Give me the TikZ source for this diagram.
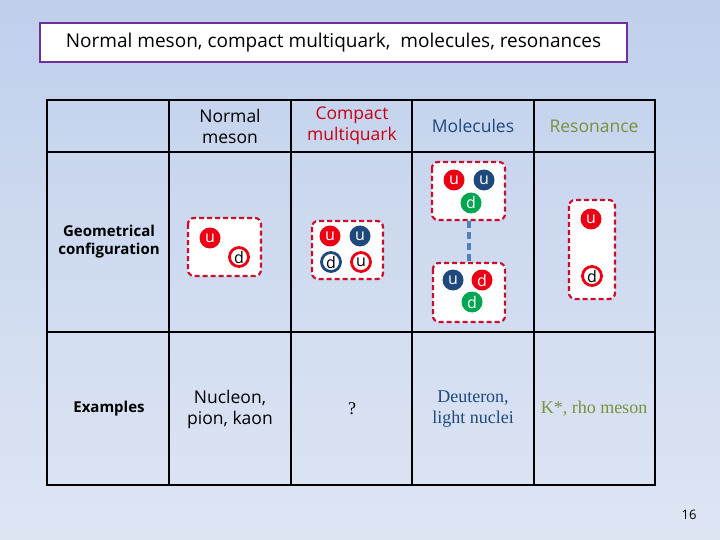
\documentclass[tikz,border=0pt]{standalone}
\usepackage{fontspec}
\setmainfont{Open Sans}
\newfontfamily\serifa{Liberation Serif}
\begin{document}
\begin{tikzpicture}[x=1pt,y=-1pt,
 grid/.style={line width=1.6pt},
 qbox/.style={draw={rgb,255:red,200;green,16;blue,46},fill=white,line width=2.2pt,dash pattern=on 5pt off 3pt,rounded corners=6pt},
 qf/.style={circle,fill=#1,text=white,minimum size=21pt,inner sep=0pt,font=\fontsize{16}{16}\selectfont},
 qr/.style={circle,draw=#1,line width=2.8pt,fill=white,text=black,minimum size=19pt,inner sep=0pt,font=\fontsize{16}{16}\selectfont},
 hd/.style={align=center,font=\fontsize{17.5}{21}\selectfont},
 lab/.style={align=center,font=\bfseries\fontsize{15}{18}\selectfont}]
\definecolor{qred}{RGB}{236,0,20}
\definecolor{qblue}{RGB}{31,73,125}
\definecolor{qgreen}{RGB}{0,166,80}
\definecolor{bgtop}{RGB}{192,208,236}
\definecolor{bgbot}{RGB}{222,230,244}
\definecolor{rgreen}{RGB}{118,146,60}
\definecolor{ttl}{RGB}{112,48,160}
\shade[top color=bgtop,bottom color=bgbot] (0,0) rectangle (720,540);
\useasboundingbox (0,0) rectangle (720,540);
% title
\node[draw=ttl,line width=1.8pt,fill=white,minimum width=587pt,minimum height=39pt,font=\fontsize{19}{21}\selectfont] (title) at (333.5,42.5) {Normal meson, compact multiquark,\ \ molecules, resonances};
% table
\draw[grid] (47,100) rectangle (655,485);
\foreach \x in {169,291,412,534} \draw[grid] (\x,100) -- (\x,485);
\draw[grid] (47,152) -- (655,152);
\draw[grid] (47,332) -- (655,332);
\node[hd] (h1) at (230,126) {Normal\\meson};
\node[hd,text=qred!85!black] (h2) at (352,126) {Compact\\multiquark};
\node[hd,text=qblue] (h3) at (473,126) {Molecules};
\node[hd,text=rgreen] (h4) at (594,126) {Resonance};
\node[lab] (r1) at (109,242) {Geometrical\\configuration};
\node[lab] (r2) at (109,409) {Examples};
\node[hd] (e1) at (230,409) {Nucleon,\\pion,\ kaon};
\node[font=\serifa\fontsize{18}{20}\selectfont] (e2) at (352,409) {?};
\node[align=center,text=qblue,font=\serifa\fontsize{18}{21}\selectfont] (e3) at (473,409) {Deuteron,\\light nuclei};
\node[text=rgreen,font=\serifa\fontsize{18}{20}\selectfont] (e4) at (594,409) {K*, rho meson};
% meson
\draw[qbox] (188,218) rectangle (261,276);
\node[qf=qred] (m1) at (210,238) {u};
\node[qr=qred] (m2) at (239,257) {d};
% compact
\draw[qbox] (312,221) rectangle (383,279);
\node[qf=qred] (c1) at (330,236) {u};
\node[qf=qblue] (c2) at (360,236) {u};
\node[qr=qblue] (c3) at (331,262) {d};
\node[qr=qred] (c4) at (361,262) {u};
% molecules
\draw[qbox] (432,162) rectangle (505,220);
\draw[qbox] (433,263) rectangle (505,322);
\coordinate (lt) at (469,221);
\coordinate (lb) at (469,262);
\draw[line width=3.5pt,dash pattern=on 7pt off 4pt,color={rgb,255:red,79;green,129;blue,189}] (lt) -- (lb);
\node[qf=qred] (a1) at (454,180) {u};
\node[qf=qblue] (a2) at (484,180) {u};
\node[qf=qgreen] (a3) at (471,203) {d};
\node[qf=qblue] (b1) at (453,280) {u};
\node[qf=qred] (b2) at (482,280) {d};
\node[qf=qgreen] (b3) at (472,302) {d};
% resonance
\draw[qbox] (569,200) rectangle (615,299);
\node[qf=qred] (s1) at (591,219) {u};
\node[qr=qred] (s2) at (592,276) {d};
\node[font=\fontsize{13}{14}\selectfont] (pg) at (689,515) {16};
\end{tikzpicture}
\end{document}
